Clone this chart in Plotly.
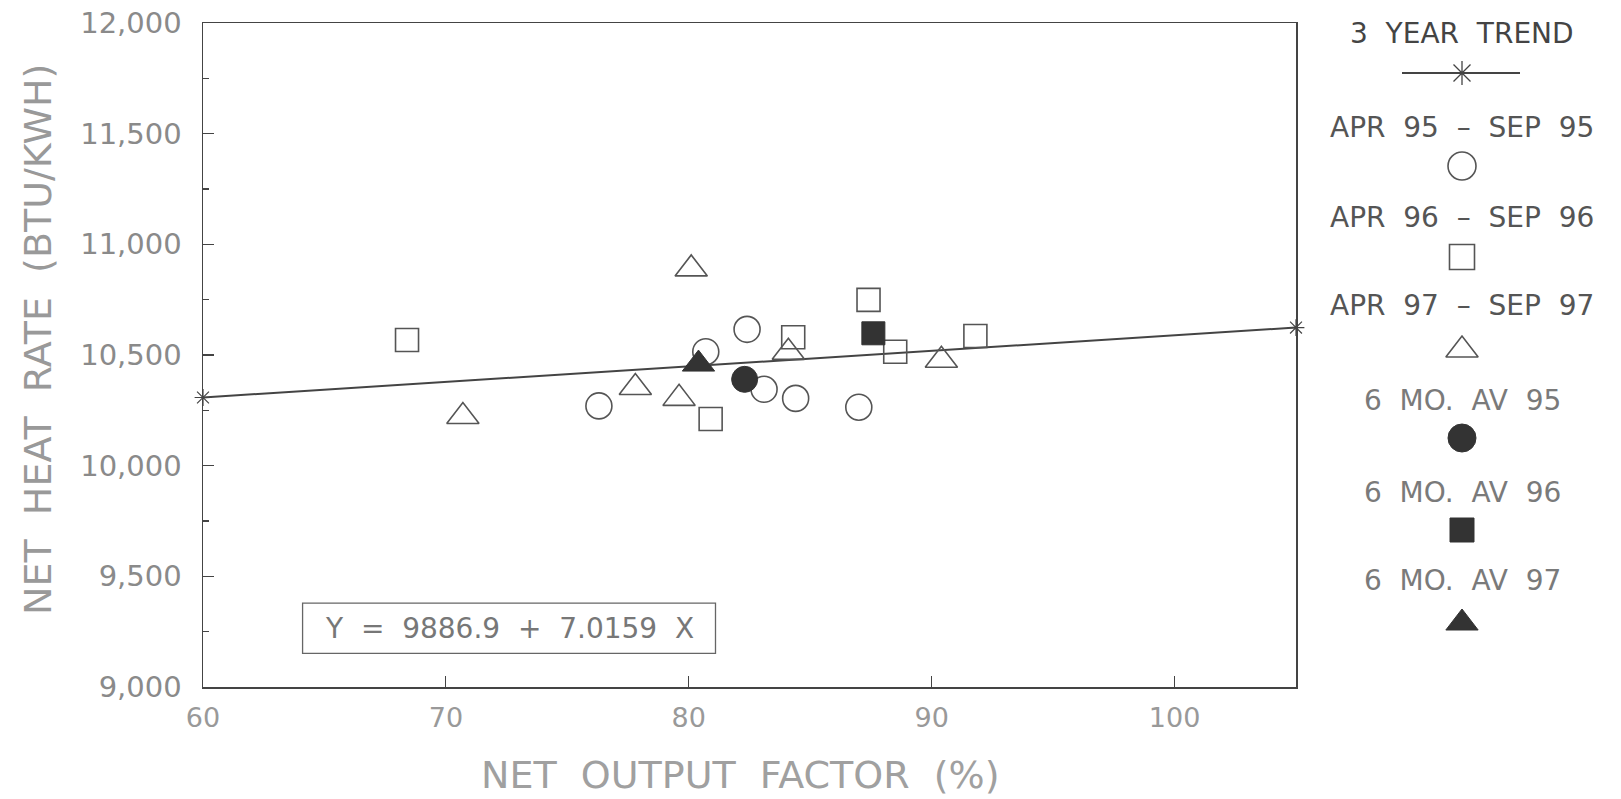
import plotly.graph_objects as go

W, H = 1621, 799          # browser window = figure size (page margin removed below)
FONT = "DejaVu Sans"
NB = "\u00a0"

# ---------------- data ----------------
apr95_x = [76.3, 80.7, 82.4, 83.1, 84.4, 87.0]
apr95_y = [10270, 10515, 10616, 10345, 10304, 10264]
apr96_x = [68.4, 80.9, 84.3, 87.4, 88.5, 91.8]
apr96_y = [10568, 10211, 10580, 10749, 10515, 10586]
apr97_x = [70.7, 77.8, 79.6, 80.1, 84.1, 90.4]
apr97_y = [10222, 10353, 10304, 10889, 10512, 10476]
avg95_x = [82.3]
avg95_y = [10390]
avg96_x = [87.6]
avg96_y = [10598]
avg97_x = [80.4]
avg97_y = [10459]
trend_x = [60, 105]
trend_y = [10308, 10624]

x_ticks = [60, 70, 80, 90, 100]
x_ticktext = ["60", "70", "80", "90", "100"]
y_ticks = [9000, 9500, 10000, 10500, 11000, 11500, 12000]
y_ticktext = ["9,000", "9,500", "10,000", "10,500", "11,000", "11,500", "12,000"]

equation = "Y = 9886.9 + 7.0159 X"
legend_title = "3 YEAR TREND"
legend_labels = ["APR 95 – SEP 95", "APR 96 – SEP 96", "APR 97 – SEP 97",
                 "6 MO. AV 95", "6 MO. AV 96", "6 MO. AV 97"]
x_title = "NET OUTPUT FACTOR (%)"
y_title = "NET HEAT RATE (BTU/KWH)"

# ---------------- styles ----------------
LINE_C = "#444444"
FILL_C = "#333333"
OPEN_C = "#555555"

def sp(s):
    return s.replace(" ", NB + NB)

fig = go.Figure()

fig.add_trace(go.Scatter(x=trend_x, y=trend_y, mode="lines+markers",
                         line=dict(color=LINE_C, width=2),
                         marker=dict(symbol="asterisk-open", size=14, color=LINE_C,
                                     line=dict(color=LINE_C, width=1.2)),
                         cliponaxis=False, hoverinfo="skip"))

open_style = dict(color=OPEN_C, line=dict(color=OPEN_C, width=1.6))
fig.add_trace(go.Scatter(x=apr95_x, y=apr95_y, mode="markers",
                         marker=dict(symbol="circle-open", size=26, **open_style)))
fig.add_trace(go.Scatter(x=apr96_x, y=apr96_y, mode="markers",
                         marker=dict(symbol="square-open", size=23, **open_style)))
fig.add_trace(go.Scatter(x=apr97_x, y=apr97_y, mode="markers",
                         marker=dict(symbol="triangle-up-open", size=28, **open_style)))
fig.add_trace(go.Scatter(x=avg95_x, y=avg95_y, mode="markers",
                         marker=dict(symbol="circle", size=26, color=FILL_C,
                                     line=dict(color=FILL_C, width=1))))
fig.add_trace(go.Scatter(x=avg96_x, y=avg96_y, mode="markers",
                         marker=dict(symbol="square", size=23, color=FILL_C,
                                     line=dict(color=FILL_C, width=1))))
fig.add_trace(go.Scatter(x=avg97_x, y=avg97_y, mode="markers",
                         marker=dict(symbol="triangle-up", size=28, color=FILL_C,
                                     line=dict(color=FILL_C, width=1))))

# ---------------- custom legend on a full-figure overlay axis (page pixels) ----------------
LEG_X = 1462
leg_text_y = [127, 217, 305, 400, 492, 580]
leg_mark_y = [166, 257, 350, 438, 530, 623]
leg_symbols = ["circle-open", "square-open", "triangle-up-open",
               "circle", "square", "triangle-up"]
leg_sizes = [28, 25, 28, 28, 24, 28]
leg_filled = [False, False, False, True, True, True]

fig.add_trace(go.Scatter(x=[1402, LEG_X, 1520], y=[73, 73, 73], mode="lines",
                         line=dict(color=LINE_C, width=2),
                         xaxis="x2", yaxis="y2", hoverinfo="skip"))
fig.add_trace(go.Scatter(x=[LEG_X], y=[73], mode="markers",
                         marker=dict(symbol="asterisk-open", size=20, color=LINE_C,
                                     line=dict(color=LINE_C, width=1.3)),
                         xaxis="x2", yaxis="y2", hoverinfo="skip"))
for sym, sz, filled, my in zip(leg_symbols, leg_sizes, leg_filled, leg_mark_y):
    if filled:
        mk = dict(symbol=sym, size=sz, color=FILL_C, line=dict(color=FILL_C, width=1))
    else:
        mk = dict(symbol=sym, size=sz, color=OPEN_C, line=dict(color=OPEN_C, width=1.6))
    fig.add_trace(go.Scatter(x=[LEG_X], y=[my], mode="markers", marker=mk,
                             xaxis="x2", yaxis="y2", hoverinfo="skip"))

annotations = []
annotations.append(dict(x=LEG_X, y=33, xref="x2", yref="y2", text=sp(legend_title),
                        showarrow=False, font=dict(family=FONT, size=28, color="#444444")))
for lab, ty in zip(legend_labels, leg_text_y):
    annotations.append(dict(x=LEG_X, y=ty, xref="x2", yref="y2", text=sp(lab),
                            showarrow=False,
                            font=dict(family=FONT, size=28,
                                      color="#555555" if "APR" in lab else "#7a7a7a")))

# axis titles
annotations.append(dict(x=38, y=340, xref="x2", yref="y2", text=sp(y_title),
                        textangle=-90, showarrow=False,
                        font=dict(family=FONT, size=38, color="#999999")))
annotations.append(dict(x=740, y=775, xref="x2", yref="y2", text=sp(x_title),
                        showarrow=False, font=dict(family=FONT, size=38, color="#a0a0a0")))

# equation box
annotations.append(dict(x=72.6, y=9265, xref="x", yref="y", text=sp(equation),
                        showarrow=False, font=dict(family=FONT, size=28, color="#777777")))

fig.update_layout(
    width=W, height=H,
    margin=dict(l=0, r=0, t=0, b=0, autoexpand=False),
    paper_bgcolor="white", plot_bgcolor="rgba(0,0,0,0)",
    showlegend=False,
    annotations=annotations,
    shapes=[dict(type="rect", xref="x", yref="y", x0=64.1, x1=81.1, y0=9152, y1=9379,
                 line=dict(color="#666666", width=1.3))],
    xaxis=dict(domain=[203 / W, 1296 / W], range=[60, 105],
               tickvals=x_ticks, ticktext=x_ticktext,
               ticks="inside", ticklen=11, tickwidth=1.2, tickcolor=LINE_C,
               showline=True, linecolor=LINE_C, linewidth=1.5, mirror=True,
               showgrid=False, zeroline=False, ticklabelstandoff=6,
               ticklabeloverflow="allow",
               tickfont=dict(family=FONT, size=27, color="#999999")),
    yaxis=dict(domain=[1 - 687 / H, 1 - 23 / H], range=[9000, 12000],
               tickvals=y_ticks, ticktext=y_ticktext,
               ticks="inside", ticklen=11, tickwidth=1.2, tickcolor=LINE_C,
               minor=dict(dtick=250, ticks="inside", ticklen=6, tickcolor=LINE_C,
                          showgrid=False),
               showline=True, linecolor=LINE_C, linewidth=1.5, mirror=True,
               showgrid=False, zeroline=False, ticklabelstandoff=14,
               ticklabeloverflow="allow",
               tickfont=dict(family=FONT, size=29, color="#8a8a8a")),
    xaxis2=dict(domain=[0, 1], range=[0, W], visible=False, anchor="y2",
                fixedrange=True),
    yaxis2=dict(domain=[0, 1], range=[H, 0], visible=False, anchor="x2",
                fixedrange=True),
)

fig.write_html("out.html",
               config={"displayModeBar": False, "staticPlot": True},
               post_script="document.body.style.margin='0px';"
                           "document.body.style.overflow='hidden';")
